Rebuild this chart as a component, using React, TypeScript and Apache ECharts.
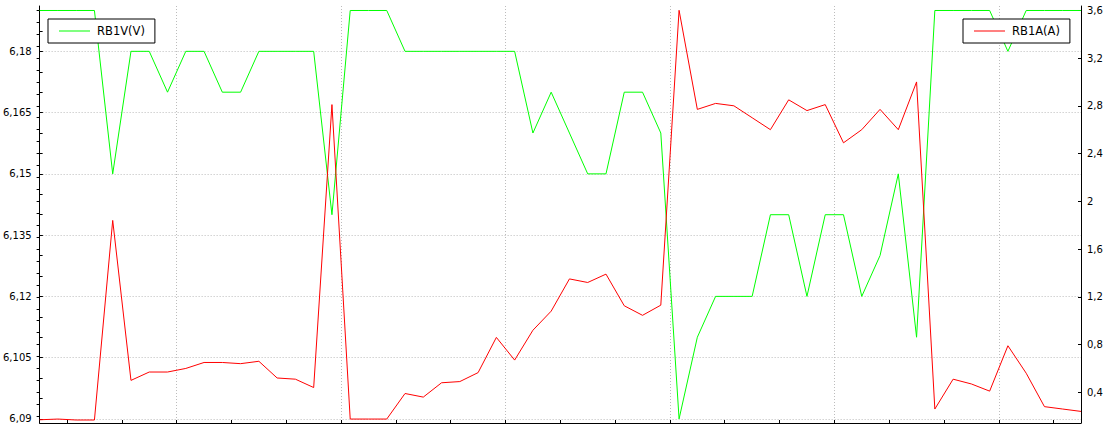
import React, { useEffect, useRef } from "react";
import * as echarts from "echarts";

// one sample per step, RB1V on the left axis, RB1A on the right axis
const voltage = [
  6.19, 6.19, 6.19, 6.19, 6.15, 6.18, 6.18, 6.17, 6.18, 6.18,
  6.17, 6.17, 6.18, 6.18, 6.18, 6.18, 6.14, 6.19, 6.19, 6.19,
  6.18, 6.18, 6.18, 6.18, 6.18, 6.18, 6.18, 6.16, 6.17, 6.16,
  6.15, 6.15, 6.17, 6.17, 6.16, 6.09, 6.11, 6.12, 6.12, 6.12,
  6.14, 6.14, 6.12, 6.14, 6.14, 6.12, 6.13, 6.15, 6.11, 6.19,
  6.19, 6.19, 6.19, 6.18, 6.19, 6.19, 6.19, 6.19,
];
const current = [
  0.17, 0.176, 0.168, 0.168, 1.84, 0.5, 0.57, 0.57, 0.6, 0.65,
  0.65, 0.64, 0.66, 0.52, 0.51, 0.44, 2.81, 0.176, 0.176, 0.176,
  0.39, 0.36, 0.48, 0.49, 0.565, 0.86, 0.67, 0.92, 1.08, 1.35,
  1.32, 1.39, 1.125, 1.045, 1.13, 3.6, 2.77, 2.82, 2.8, 2.7,
  2.6, 2.85, 2.76, 2.81, 2.49, 2.6, 2.77, 2.6, 3.0, 0.26,
  0.51, 0.47, 0.41, 0.79, 0.56, 0.28, 0.26, 0.24,
];

const leftLabels = [6.09, 6.105, 6.12, 6.135, 6.15, 6.165, 6.18];
const leftTicks = [
  6.09, 6.095, 6.1, 6.105, 6.11, 6.115, 6.12, 6.125, 6.13, 6.135, 6.14,
  6.145, 6.15, 6.155, 6.16, 6.165, 6.17, 6.175, 6.18, 6.185, 6.19,
];
const rightLabels = [0.4, 0.8, 1.2, 1.6, 2, 2.4, 2.8, 3.2, 3.6];
const rightTicks = [
  0.2, 0.3, 0.4, 0.5, 0.6, 0.7, 0.8, 0.9, 1, 1.1, 1.2, 1.3, 1.4, 1.5, 1.6,
  1.7, 1.8, 1.9, 2, 2.1, 2.2, 2.3, 2.4, 2.5, 2.6, 2.7, 2.8, 2.9, 3, 3.1,
  3.2, 3.3, 3.4, 3.5, 3.6,
];
const xMajor = [7.5, 16.5, 25.5, 34.5, 43.5, 52.5];
const xMinor = [
  1.5, 4.5, 7.5, 10.5, 13.5, 16.5, 19.5, 22.5, 25.5, 28.5, 31.5, 34.5,
  37.5, 40.5, 43.5, 46.5, 49.5, 52.5, 55.5,
];

const FONT = "DejaVu Sans";
const comma = (v: number) => String(v).replace(".", ",");
const dotted = { show: true, lineStyle: { color: "#bcbcbc", width: 1, type: [1, 2] } };
const black = { show: true, onZero: false, lineStyle: { color: "#000", width: 1 } };
const tick = (values: number[]) => ({
  show: true,
  inside: true,
  length: 3,
  customValues: values,
  lineStyle: { color: "#000", width: 1 },
});

// thin line as legend sample, no marker
const legendBox = {
  orient: "horizontal",
  top: 19,
  padding: [6, 10, 6, 11],
  itemWidth: 31,
  itemHeight: 14,
  icon: "path://M0,0h31v1h-31z",
  backgroundColor: "#fff",
  borderColor: "#000",
  borderWidth: 1,
  borderRadius: 0,
  textStyle: { fontFamily: FONT, fontSize: 11.5, color: "#000", padding: [0, 0, 0, 2] },
};

const LineChart = () => {
  const chartRef = useRef<HTMLDivElement>(null);

  useEffect(() => {
    const chart = echarts.init(chartRef.current, null, { renderer: "svg" });

    chart.setOption({
      animation: false,
      backgroundColor: "#fff",
      grid: { left: 37, right: 25, top: 6, bottom: 7 },
      legend: [
        { ...legendBox, left: 48, data: ["RB1V(V)"] },
        { ...legendBox, left: 963, data: ["RB1A(A)"] },
      ],
      xAxis: [
        {
          type: "value",
          min: 0,
          max: voltage.length - 1,
          axisLine: black,
          axisTick: tick(xMajor),
          axisLabel: { show: false },
          splitLine: dotted,
        },
        {
          type: "value",
          position: "bottom",
          min: 0,
          max: voltage.length - 1,
          axisLine: { show: false },
          axisTick: tick(xMinor),
          axisLabel: { show: false },
          splitLine: { show: false },
        },
      ],
      yAxis: [
        {
          type: "value",
          position: "left",
          min: 6.089,
          max: 6.1911,
          axisLine: black,
          axisTick: tick(leftLabels),
          axisLabel: {
            customValues: leftLabels,
            formatter: comma,
            margin: 8,
            fontFamily: FONT,
            fontSize: 10,
            color: "#000",
          },
          splitLine: dotted,
        },
        {
          type: "value",
          position: "right",
          min: 0.143,
          max: 3.636,
          axisLine: black,
          axisTick: tick(rightLabels),
          axisLabel: {
            customValues: rightLabels,
            formatter: comma,
            margin: 6,
            fontFamily: FONT,
            fontSize: 10,
            color: "#000",
          },
          splitLine: { show: false },
        },
        {
          type: "value",
          position: "left",
          min: 6.089,
          max: 6.1911,
          axisLine: { show: false },
          axisTick: tick(leftTicks),
          axisLabel: { show: false },
          splitLine: { show: false },
        },
        {
          type: "value",
          position: "right",
          min: 0.143,
          max: 3.636,
          axisLine: { show: false },
          axisTick: tick(rightTicks),
          axisLabel: { show: false },
          splitLine: { show: false },
        },
      ],
      series: [
        {
          name: "RB1V(V)",
          type: "line",
          xAxisIndex: 0,
          yAxisIndex: 0,
          symbol: "none",
          data: voltage.map((v, i) => [i, v]),
          itemStyle: { color: "#00ff00" },
          lineStyle: { color: "#00ff00", width: 1 },
        },
        {
          name: "RB1A(A)",
          type: "line",
          xAxisIndex: 0,
          yAxisIndex: 1,
          symbol: "none",
          data: current.map((v, i) => [i, v]),
          itemStyle: { color: "#ff0000" },
          lineStyle: { color: "#ff0000", width: 1 },
        },
      ],
    });

    return () => {
      chart.dispose();
    };
  }, []);

  return (
    <div
      ref={chartRef}
      style={{ position: "fixed", left: 0, top: 0, width: "1106px", height: "430px" }}
    ></div>
  );
};

export default function App() {
  return <LineChart />;
}
